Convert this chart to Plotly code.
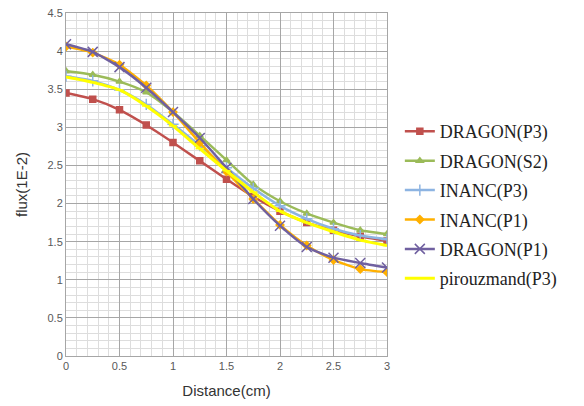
import plotly.graph_objects as go

distance = [0, 0.25, 0.5, 0.75, 1.0, 1.25, 1.5, 1.75, 2.0, 2.25, 2.5, 2.75, 3.0]

dragon_p3 = [3.45, 3.37, 3.23, 3.03, 2.80, 2.56, 2.32, 2.09, 1.90, 1.75, 1.65, 1.57, 1.51]
dragon_s2 = [3.74, 3.69, 3.60, 3.46, 3.20, 2.89, 2.57, 2.25, 2.03, 1.87, 1.75, 1.65, 1.60]
inanc_p3 = [3.67, 3.61, 3.49, 3.30, 3.04, 2.76, 2.47, 2.20, 1.97, 1.80, 1.67, 1.58, 1.53]
inanc_p1 = [4.06, 3.98, 3.82, 3.55, 3.20, 2.80, 2.42, 2.06, 1.72, 1.45, 1.26, 1.14, 1.10]
dragon_p1 = [4.09, 3.99, 3.79, 3.52, 3.20, 2.86, 2.47, 2.06, 1.71, 1.43, 1.29, 1.22, 1.16]
pirouzmand_p3 = [3.66, 3.59, 3.49, 3.28, 3.02, 2.72, 2.43, 2.15, 1.90, 1.75, 1.63, 1.52, 1.45]

series = [
    ("DRAGON(P3)", dragon_p3, "#C0504D", "square", 6, 2.5),
    ("DRAGON(S2)", dragon_s2, "#9BBB59", "triangle-up", 6, 2.5),
    ("INANC(P3)", inanc_p3, "#8DB4E2", "cross-thin", 8, 2.5),
    ("INANC(P1)", inanc_p1, "#FFB000", "diamond", 6, 2.5),
    ("DRAGON(P1)", dragon_p1, "#7060A0", "x-thin", 10, 2.5),
    ("pirouzmand(P3)", pirouzmand_p3, "#FFFF00", "line-ew", 6, 3),
]

fig = go.Figure()
for i, (name, ys, color, sym, size, lw) in enumerate(series):
    fig.add_trace(go.Scatter(
        x=distance, y=ys, name=name, mode="lines+markers",
        legendgroup="g%d" % i,
        line=dict(color=color, width=lw, shape="spline", smoothing=0.6),
        marker=dict(symbol=sym, size=size, color=color,
                    line=dict(color=color, width=1.5)),
    ))

fig.update_layout(
    width=584, height=406,
    margin=dict(l=58, r=205, t=5, b=58),
    paper_bgcolor="white", plot_bgcolor="white",
    font=dict(family="Liberation Sans", color="#595959"),
    legend=dict(
        x=1.04, xanchor="left", y=0.44, yanchor="middle",
        font=dict(family="Liberation Serif", size=18, color="#222222"),
        bgcolor="rgba(0,0,0,0)", tracegroupgap=3,
    ),
    showlegend=True,
)
fig.update_xaxes(
    range=[0, 3], tickvals=[0, 0.5, 1, 1.5, 2, 2.5, 3],
    ticktext=["0", "0.5", "1", "1.5", "2", "2.5", "3"],
    showgrid=True, gridcolor="#A6A6A6", gridwidth=1,
    minor=dict(dtick=0.1, showgrid=True, gridcolor="#DDDDDD", gridwidth=1),
    zeroline=False, showline=True, linecolor="#A6A6A6", mirror=True,
    tickfont=dict(size=11, color="#595959"), automargin=False,
    ticklabeloverflow="allow",
    title=dict(text="Distance(cm)", font=dict(size=15, color="#333333"), standoff=14),
)
fig.update_yaxes(
    range=[0, 4.5],
    tickvals=[0, 0.5, 1, 1.5, 2, 2.5, 3, 3.5, 4, 4.5],
    ticktext=["0", "0.5", "1", "1.5", "2", "2.5", "3", "3.5", "4", "4.5"],
    showgrid=True, gridcolor="#A6A6A6", gridwidth=1,
    minor=dict(dtick=0.1, showgrid=True, gridcolor="#DDDDDD", gridwidth=1),
    zeroline=False, showline=True, linecolor="#A6A6A6", mirror=True,
    tickfont=dict(size=11, color="#595959"), automargin=False,
    ticklabeloverflow="allow",
    title=dict(text="flux(1E-2)", font=dict(size=15, color="#333333"), standoff=16),
)

fig.write_html("out.html")
